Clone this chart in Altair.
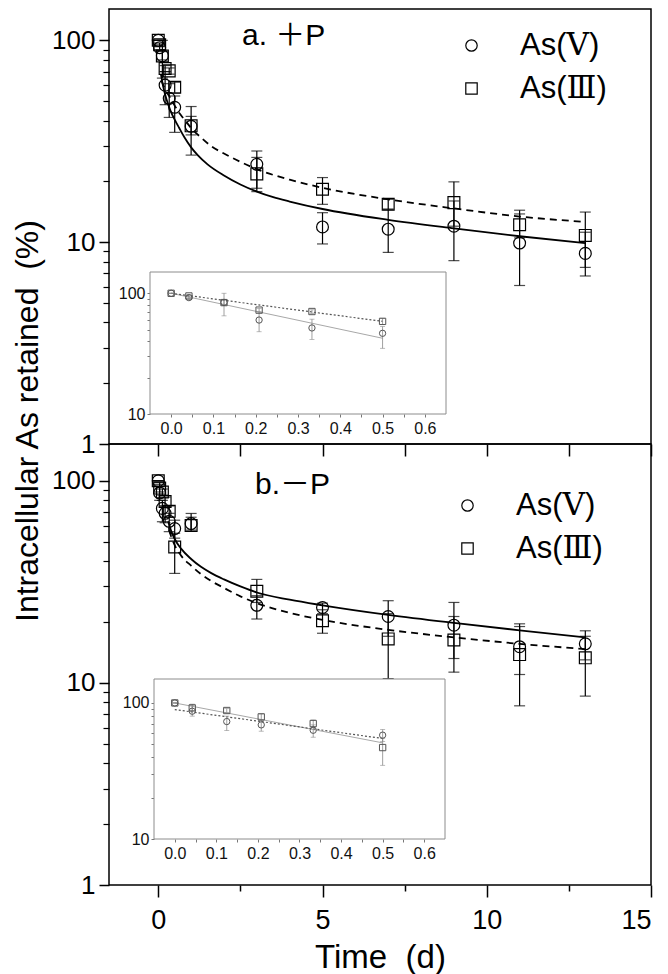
import altair as alt
import pandas as pd

# ---------------- data ----------------
SERIES = ["As(Ⅴ)", "As(Ⅲ)"]
T_MAIN = [0, 0.042, 0.125, 0.208, 0.333, 0.5, 1, 3, 5, 7, 9, 11, 13]
N_INSET = 6  # the inset shows the first six sampling times (0 - 0.5 d)

# panel a (+P)
A_V = [100, 92, 84, 60, 51.6, 46.6, 37.5, 24.3, 11.9, 11.6, 12.0, 9.9, 8.8]
A_V_LO = [100, 90, 65, 48, 41.5, 35.0, 27.0, 17.8, 9.8, 8.9, 8.1, 6.1, 6.8]
A_V_HI = [100, 95, 100, 70, 61, 53, 47, 28.3, 14.0, 14.5, 16.0, 13.8, 11.2]
A_III = [100, 95, 83.7, 72.5, 70.6, 58.5, 37.7, 21.8, 18.3, 15.4, 15.7, 12.2, 10.8]
A_III_LO = [100, 93, 80, 70, 68, 55, 34, 18.5, 15.4, 14.6, 12.0, 10.5, 7.5]
A_III_HI = [100, 97, 88, 75, 73, 62, 42, 26.3, 20.9, 16.3, 19.9, 14.4, 14.1]

# panel b (-P)
B_V = [100, 87, 73, 69, 63, 58, 61.4, 24.2, 23.6, 21.3, 19.3, 15.1, 15.6]
B_V_LO = [100, 80, 62.7, 62, 56, 52, 56.3, 20.7, 22.0, 17.0, 13.2, 11.0, 13.0]
B_V_HI = [100, 98, 80, 75, 69, 63.8, 68.9, 27.0, 24.8, 25.5, 25.0, 19.6, 18.1]
B_III = [100, 92, 88, 79, 70.6, 47, 60, 28.4, 20.3, 16.5, 16.3, 13.8, 13.3]
B_III_LO = [100, 88, 85, 75, 66, 34.8, 57, 25.0, 17.6, 10.5, 11.3, 7.7, 8.6]
B_III_HI = [100, 96, 91, 83, 75, 55, 66, 32.5, 23.0, 22.0, 21.3, 19.0, 17.0]

# fitted curves
A_FIT_V_T = [0.08, 0.15, 0.25, 0.38, 0.5, 0.63, 0.8, 1, 1.2, 1.5, 2, 2.5, 3, 3.5, 4, 5, 7, 9, 11, 13]
A_FIT_V = [68, 59, 51, 44.5, 40.5, 37, 33, 29.5, 27, 24.3, 21.4, 19.3, 17.8, 16.7, 15.9, 14.6, 12.9, 11.7, 10.7, 9.9]
A_FIT_III_T = [0.1, 0.2, 0.33, 0.5, 0.67, 0.85, 1, 1.3, 1.6, 2, 2.5, 3, 4, 5, 7, 9, 11, 13]
A_FIT_III = [63, 57.5, 53, 47.5, 43, 39.5, 36.8, 33, 30, 27.5, 25, 23, 20.4, 18.6, 16.3, 14.7, 13.4, 12.6]
B_FIT_V_T = [0.3, 0.4, 0.5, 0.7, 1, 1.3, 1.6, 2, 2.5, 3, 4, 5, 7, 9, 11, 13]
B_FIT_V = [63, 56, 51.5, 46, 41, 37.5, 35, 32.5, 30, 28, 25.8, 24.2, 21.7, 19.8, 18.2, 16.8]
B_FIT_III_T = [0.33, 0.4, 0.5, 0.7, 1, 1.3, 1.6, 2, 2.5, 3, 4, 5, 7, 9, 11, 13]
B_FIT_III = [57, 52.5, 48, 42.5, 38, 34.5, 32, 29.5, 26.8, 24.8, 22.2, 20.5, 18.3, 16.8, 15.6, 14.7]

# inset exponential fits (end points)
INSET_FIT_T = [0, 0.5]
A_INSET_FIT_V = [100, 42.4]
A_INSET_FIT_III = [100, 58.5]
B_INSET_FIT_V = [100, 50.9]
B_INSET_FIT_III = [89.4, 54.8]

MAIN_X_DOMAIN = [-1.5, 15]
INSET_X_DOMAIN = [-0.05, 0.65]
INSET_Y_DOMAIN = [10, 150]

MAIN_X_MAJOR = [0, 5, 10, 15]
MAIN_X_ALL = [0, 2.5, 5, 7.5, 10, 12.5, 15]
MAIN_X_MINOR = [2.5, 7.5, 12.5]
MAIN_Y_MAJOR = [1, 10, 100]
MAIN_Y_MINOR = [2, 3, 4, 5, 6, 7, 8, 9, 20, 30, 40, 50, 60, 70, 80, 90]
INSET_X_TICKS = [0, 0.05, 0.1, 0.15, 0.2, 0.25, 0.3, 0.35, 0.4, 0.45, 0.5, 0.55, 0.6]
INSET_Y_TICKS = [10, 20, 30, 40, 50, 60, 70, 80, 90, 100]

X_TITLE = "Time\u00a0 (d)"
Y_TITLE = "Intracellular As retained\u00a0 (%)"

FONT = "Liberation Sans, Arial, sans-serif"
FONT_CJK = "Liberation Sans, Noto Sans CJK SC, sans-serif"
LEGEND_FONT = "Liberation Sans, DejaVu Serif, serif"


def long_points(vals, n=None):
    rows = []
    ts = T_MAIN[:n] if n else T_MAIN
    for s, (v, lo, hi) in zip(SERIES, vals):
        for i, t in enumerate(ts):
            rows.append({"t": t, "v": v[i], "lo": lo[i], "hi": hi[i], "s": s})
    return pd.DataFrame(rows)


def long_fit(pairs):
    rows = []
    for s, (ts, vs) in zip(SERIES, pairs):
        for t, v in zip(ts, vs):
            rows.append({"t": t, "v": v, "s": s})
    return pd.DataFrame(rows)


frame_df = pd.DataFrame({"x0": [INSET_X_DOMAIN[0]], "x1": [INSET_X_DOMAIN[1]],
                         "y0": [INSET_Y_DOMAIN[0]], "y1": [INSET_Y_DOMAIN[1]]})
one = pd.DataFrame({"k": [0]})


def make_panel(pts, fits, ipts, ifits, H, ytop, inset, legend_xy, label, label_xy,
               bottom, ytitle):
    W = 542

    def xs():
        return alt.Scale(domain=MAIN_X_DOMAIN, nice=False, zero=False)

    def ys():
        return alt.Scale(type="log", domain=[1, ytop], nice=False)

    shape_scale = alt.Scale(domain=SERIES, range=["circle", "square"])

    if bottom:
        xax = alt.Axis(orient="bottom", values=MAIN_X_MAJOR, format="d", title=X_TITLE,
                       titleFontSize=33, labelFontSize=27, labelPadding=10, titlePadding=8,
                       tickSize=12, tickWidth=1.5, domain=False, grid=False)
        xminor = alt.Axis(orient="bottom", values=MAIN_X_MINOR, labels=False, title=None,
                          tickSize=6, tickWidth=1.5, domain=False, grid=False)
    else:
        xax = alt.Axis(orient="bottom", values=MAIN_X_ALL, labels=False, title=None,
                       tickSize=12, tickWidth=1.5, domain=False, grid=False)
        xminor = None
    yax = alt.Axis(orient="left", values=MAIN_Y_MAJOR, format="d", title=None,
                   labelFontSize=26, labelPadding=4, tickSize=10, tickWidth=1.5,
                   domain=False, grid=False)
    yminor = alt.Axis(orient="left", values=MAIN_Y_MINOR, labels=False, title=None,
                      tickSize=6, tickWidth=1.2, domain=False, grid=False)

    def mx(field, ax=None):
        return alt.X(field, type="quantitative", scale=xs(), axis=ax)

    def my(field, ax=None):
        return alt.Y(field, type="quantitative", scale=ys(), axis=ax)

    fit_v = alt.Chart(fits).transform_filter(alt.datum.s == SERIES[0]).mark_line(
        color="black", strokeWidth=1.8, interpolate="monotone").encode(
        x=mx("t"), y=my("v"))
    fit_iii = alt.Chart(fits).transform_filter(alt.datum.s == SERIES[1]).mark_line(
        color="black", strokeWidth=1.8, strokeDash=[7, 5], interpolate="monotone").encode(
        x=mx("t"), y=my("v"))
    rule = alt.Chart(pts).mark_rule(color="black", strokeWidth=1.2).encode(
        x=mx("t"), y=my("lo"), y2="hi:Q")
    cap_lo = alt.Chart(pts).mark_tick(orient="horizontal", color="black", size=11,
                                      thickness=1.2).encode(x=mx("t"), y=my("lo"))
    cap_hi = alt.Chart(pts).mark_tick(orient="horizontal", color="black", size=11,
                                      thickness=1.2).encode(x=mx("t"), y=my("hi"))
    points = alt.Chart(pts).mark_point(filled=False, color="black", size=140,
                                       strokeWidth=1.2, opacity=1).encode(
        x=mx("t"), y=my("v"),
        shape=alt.Shape("s:N", scale=shape_scale, legend=alt.Legend(
            title=None, orient="none", legendX=legend_xy[0], legendY=legend_xy[1],
            labelFontSize=31, labelFont=LEGEND_FONT, labelColor="black",
            symbolSize=130, symbolStrokeWidth=1.2, symbolStrokeColor="black",
            symbolFillColor="transparent", rowPadding=11, labelOffset=33, padding=0,
            labelLimit=0)))
    main = alt.layer(fit_v, fit_iii, rule, cap_lo, cap_hi, points)

    # invisible layers that only carry the axes
    major_axes = alt.Chart(fits).mark_line(opacity=0).encode(
        x=mx("t", xax), y=my("v", yax))
    minor_axes = alt.Chart(fits).mark_line(opacity=0).encode(
        x=mx("t", xminor), y=my("v", yminor))

    # ---------------- inset ----------------
    ix0, ix1, iy0, iy1 = inset

    def ixs():
        return alt.Scale(domain=INSET_X_DOMAIN, range=[ix0, ix1], nice=False, zero=False)

    def iys():
        return alt.Scale(type="log", domain=INSET_Y_DOMAIN, range=[iy0, iy1], nice=False)

    ixax = alt.Axis(orient="bottom", offset=iy0 - H, values=INSET_X_TICKS,
                    labelExpr="round(datum.value*100) % 10 == 0 ? format(datum.value, '.1f') : ''",
                    title=None, labelFontSize=16, labelPadding=3, tickSize=3,
                    tickColor="#777777", labelColor="#111111", domain=False, grid=False,
                    labelFont=FONT)
    iyax = alt.Axis(orient="left", offset=-ix0, values=INSET_Y_TICKS, format="d",
                    labelExpr="datum.value == 10 || datum.value == 100 ? datum.label : ''",
                    title=None, labelFontSize=16, labelPadding=2, tickSize=3,
                    tickColor="#777777", labelColor="#111111", domain=False, grid=False,
                    labelFont=FONT)

    def ix(field, ax=None):
        return alt.X(field, type="quantitative", scale=ixs(), axis=ax)

    def iy(field, ax=None):
        return alt.Y(field, type="quantitative", scale=iys(), axis=ax)

    frame = alt.Chart(frame_df).mark_rect(fill="white", stroke="#8c8c8c", strokeWidth=1).encode(
        x=ix("x0"), x2="x1:Q", y=iy("y0"), y2="y1:Q")
    iline_v = alt.Chart(ifits).transform_filter(alt.datum.s == SERIES[0]).mark_line(
        color="#a8a8a8", strokeWidth=1).encode(x=ix("t"), y=iy("v"))
    iline_iii = alt.Chart(ifits).transform_filter(alt.datum.s == SERIES[1]).mark_line(
        color="#555555", strokeWidth=1.2, strokeDash=[2, 2]).encode(x=ix("t"), y=iy("v"))
    irule = alt.Chart(ipts).mark_rule(color="#888888", strokeWidth=0.8).encode(
        x=ix("t"), y=iy("lo"), y2="hi:Q")
    icap_lo = alt.Chart(ipts).mark_tick(orient="horizontal", color="#888888", size=5,
                                        thickness=0.8).encode(x=ix("t"), y=iy("lo"))
    icap_hi = alt.Chart(ipts).mark_tick(orient="horizontal", color="#888888", size=5,
                                        thickness=0.8).encode(x=ix("t"), y=iy("hi"))
    ipoints = alt.Chart(ipts).mark_point(filled=False, color="#555555", size=40,
                                         strokeWidth=1, opacity=1).encode(
        x=ix("t"), y=iy("v"),
        shape=alt.Shape("s:N", scale=alt.Scale(domain=SERIES, range=["circle", "square"]),
                        legend=None))
    inset_layer = alt.layer(frame, iline_v, iline_iii, irule, icap_lo, icap_hi, ipoints)
    inset_axes = alt.Chart(frame_df).mark_rect(opacity=0).encode(
        x=ix("x0", ixax), x2="x1:Q", y=iy("y0", iyax), y2="y1:Q")

    lab = alt.Chart(one).mark_text(text=label, font=FONT_CJK, fontSize=30, align="left",
                                   baseline="alphabetic", color="black").encode(
        x=alt.value(label_xy[0]), y=alt.value(label_xy[1]))

    layers = [main, major_axes, minor_axes, inset_layer, inset_axes, lab]
    if ytitle:
        yt = alt.Chart(one).mark_text(text=Y_TITLE, font=FONT,
                                      fontSize=32, angle=270, align="center",
                                      baseline="alphabetic", color="black").encode(
            x=alt.value(-71), y=alt.value(412))
        layers.append(yt)

    return alt.layer(*layers).resolve_scale(
        x="independent", y="independent", shape="independent").properties(width=W, height=H)


top = make_panel(
    long_points([(A_V, A_V_LO, A_V_HI), (A_III, A_III_LO, A_III_HI)]),
    long_fit([(A_FIT_V_T, A_FIT_V), (A_FIT_III_T, A_FIT_III)]),
    long_points([(A_V, A_V_LO, A_V_HI), (A_III, A_III_LO, A_III_HI)], N_INSET),
    long_fit([(INSET_FIT_T, A_INSET_FIT_V), (INSET_FIT_T, A_INSET_FIT_III)]),
    H=435, ytop=143, inset=(41, 337, 405, 263), legend_xy=(347, 21),
    label="a. ＋P", label_xy=(133, 36), bottom=False, ytitle=True)

bottom = make_panel(
    long_points([(B_V, B_V_LO, B_V_HI), (B_III, B_III_LO, B_III_HI)]),
    long_fit([(B_FIT_V_T, B_FIT_V), (B_FIT_III_T, B_FIT_III)]),
    long_points([(B_V, B_V_LO, B_V_HI), (B_III, B_III_LO, B_III_HI)], N_INSET),
    long_fit([(INSET_FIT_T, B_INSET_FIT_V), (INSET_FIT_T, B_INSET_FIT_III)]),
    H=441, ytop=152, inset=(45, 336, 395, 235), legend_xy=(343, 46),
    label="b.－P", label_xy=(146, 50), bottom=True, ytitle=False)

chart = alt.vconcat(top, bottom, spacing=0, bounds="flush").resolve_scale(
    shape="independent").properties(
    padding={"left": 3, "top": 0, "right": 0, "bottom": 0}, background="white").configure_view(
    stroke="black", strokeWidth=1.5).configure_axis(
    labelFont=FONT, titleFont=FONT, labelColor="black", titleColor="black",
    tickColor="black", titleFontWeight="normal")

chart.save("out.html", embed_options={"renderer": "svg", "actions": False})
